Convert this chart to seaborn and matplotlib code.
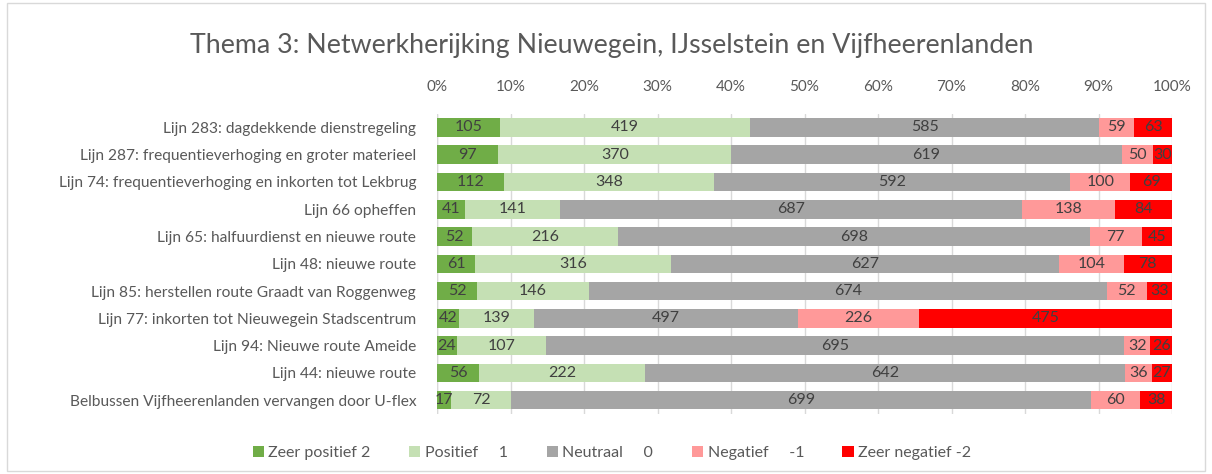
import numpy as np
import pandas as pd
import matplotlib
matplotlib.use("Agg")
import matplotlib.pyplot as plt
import seaborn as sns
from matplotlib.patches import Patch, Rectangle
from matplotlib.ticker import PercentFormatter

lijnen = [
    "Lijn 283: dagdekkende dienstregeling",
    "Lijn 287: frequentieverhoging en groter materieel",
    "Lijn 74: frequentieverhoging en inkorten tot Lekbrug",
    "Lijn 66 opheffen",
    "Lijn 65: halfuurdienst en nieuwe route",
    "Lijn 48: nieuwe route",
    "Lijn 85: herstellen route Graadt van Roggenweg",
    "Lijn 77: inkorten tot Nieuwegein Stadscentrum",
    "Lijn 94: Nieuwe route Ameide",
    "Lijn 44: nieuwe route",
    "Belbussen Vijfheerenlanden vervangen door U-flex",
]
zeer_positief = [105, 97, 112, 41, 52, 61, 52, 42, 24, 56, 17]
positief = [419, 370, 348, 141, 216, 316, 146, 139, 107, 222, 72]
neutraal = [585, 619, 592, 687, 698, 627, 674, 497, 695, 642, 699]
negatief = [59, 50, 100, 138, 77, 104, 52, 226, 32, 36, 60]
zeer_negatief = [63, 30, 69, 84, 45, 78, 33, 475, 26, 27, 38]

reeksen = ["Zeer positief 2", "Positief     1", "Neutraal     0", "Negatief     -1", "Zeer negatief -2"]
kleuren = ["#70AD47", "#C5E0B4", "#A5A5A5", "#FF9999", "#FF0000"]

counts = np.array([zeer_positief, positief, neutraal, negatief, zeer_negatief], dtype=float)
totaal = counts.sum(axis=0)
aandeel = counts / totaal
cum = aandeel.cumsum(axis=0)

sns.set_style("white")
plt.rcParams["font.family"] = ["Lato", "DejaVu Sans"]

fig = plt.figure(figsize=(12.12, 4.74), dpi=100)
ax = fig.add_axes([0.3606, 0.127, 0.6064, 0.633])

# gestapelde balken: cumulatief tekenen van achter naar voor
for i in range(len(reeksen) - 1, -1, -1):
    df = pd.DataFrame({"lijn": lijnen, "cum": cum[i]})
    sns.barplot(data=df, x="cum", y="lijn", color=kleuren[i], orient="h",
                width=0.68, ax=ax, saturation=1, zorder=2, linewidth=0)

# data labels
for i in range(len(reeksen)):
    start = cum[i] - aandeel[i]
    for j in range(len(lijnen)):
        ax.text(start[j] + aandeel[i][j] / 2, j, str(int(counts[i][j])),
                ha="center", va="center", fontsize=11.5, color="#404040", zorder=3)

ax.set_xlim(0, 1)
ax.set_ylim(len(lijnen) - 0.5, -0.5)
ax.set_xticks(np.arange(0, 1.01, 0.1))
ax.xaxis.set_major_formatter(PercentFormatter(1.0, decimals=0))
ax.xaxis.tick_top()
ax.tick_params(axis="x", length=0, labelsize=11, labelcolor="#595959", pad=14)
ax.tick_params(axis="y", length=0, labelsize=11.2, labelcolor="#595959", pad=15)
ax.set_xlabel("")
ax.set_ylabel("")
ax.grid(axis="x", color="#D9D9D9", linewidth=1, zorder=0)
ax.set_axisbelow(True)
for s in ax.spines.values():
    s.set_visible(False)
ax.axvline(0, color="#D9D9D9", linewidth=1, zorder=1)

fig.text(0.505, 0.905, "Thema 3: Netwerkherijking Nieuwegein, IJsselstein en Vijfheerenlanden",
         ha="center", va="center", fontsize=19.3, color="#595959")

handles = [Patch(facecolor=c, edgecolor="none") for c in kleuren]
fig.legend(handles, reeksen, loc="center", bbox_to_anchor=(0.505, 0.045), ncol=5,
           frameon=False, fontsize=11.5, labelcolor="#595959", handlelength=0.7,
           handleheight=0.7, handletextpad=0.3, columnspacing=2.4)

fig.patches.append(Rectangle((0.006, 0.006), 0.988, 0.988, transform=fig.transFigure,
                             fill=False, edgecolor="#D9D9D9", linewidth=1))

fig.savefig("out.png", dpi=100)
